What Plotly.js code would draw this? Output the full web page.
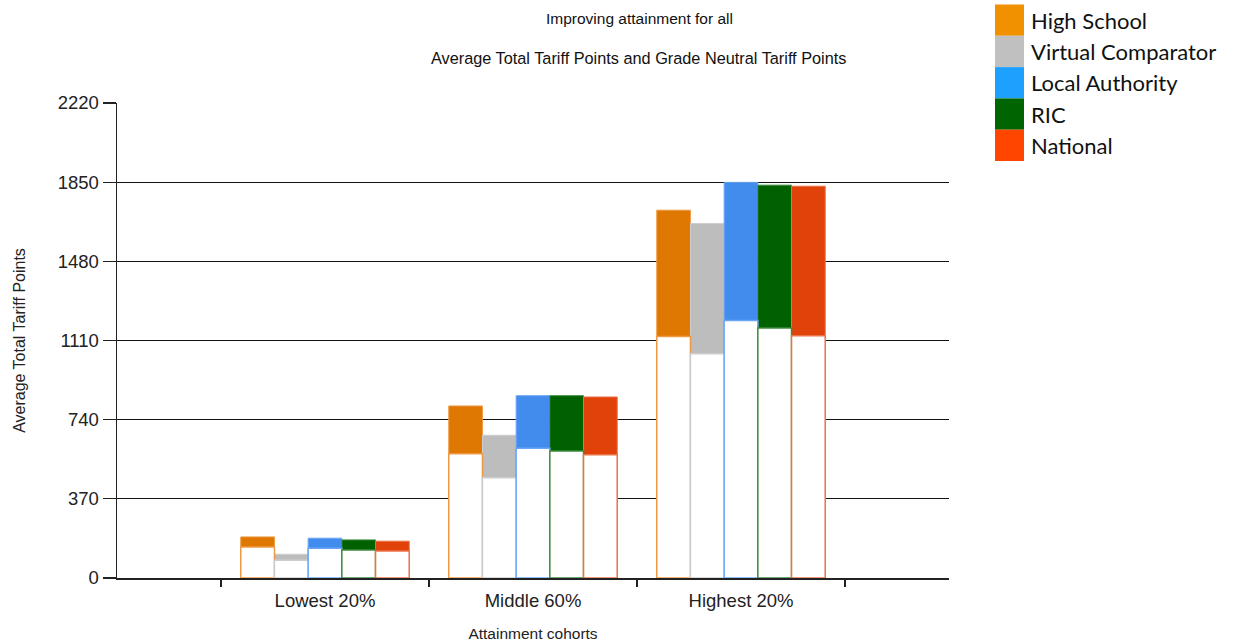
<!DOCTYPE html>
<html>
<head>
<meta charset="utf-8">
<script src="https://cdn.plot.ly/plotly-3.0.1.min.js"></script>
<style>
  html, body { margin: 0; padding: 0; background: #fff; }
  #chart { width: 1236px; height: 642px; }
</style>
</head>
<body>
<div id="chart"></div>
<script>
// Attainment cohorts on the x axis
const cohorts = ['Lowest 20%', 'Middle 60%', 'Highest 20%'];

// Comparison groups
const groups = ['High School', 'Virtual Comparator', 'Local Authority', 'RIC', 'National'];

// Average Total Tariff Points per cohort (coloured bars)
const totalHighSchool = [192, 804, 1719];
const totalVirtualComparator = [111, 667, 1657];
const totalLocalAuthority = [186, 852, 1849];
const totalRIC = [178, 852, 1836];
const totalNational = [172, 846, 1831];

// Grade Neutral Tariff Points per cohort (white bars in front)
const neutralHighSchool = [145, 581, 1129];
const neutralVirtualComparator = [83, 468, 1048];
const neutralLocalAuthority = [139, 606, 1204];
const neutralRIC = [131, 593, 1169];
const neutralNational = [126, 576, 1132];

// Y axis ticks
const yTicks = [0, 370, 740, 1110, 1480, 1850, 2220];

const totals = [totalHighSchool, totalVirtualComparator, totalLocalAuthority, totalRIC, totalNational];
const neutrals = [neutralHighSchool, neutralVirtualComparator, neutralLocalAuthority, neutralRIC, neutralNational];

// Bar fills, bar outlines and legend swatch colours
const barColors = ['#DE7800', '#BDBDBD', '#428CEE', '#006100', '#E0420A'];
const edgeColors = ['#EE9A45', '#CDCDCD', '#6AA6F5', '#3E8A3E', '#EC7248'];
const swatchColors = ['#F29100', '#C0C0C0', '#1EA0FF', '#006400', '#FF4500'];

const W = 1236, H = 642;
const M = { l: 117, r: 287, t: 103, b: 64 };
const plotW = W - M.l - M.r, plotH = H - M.t - M.b;
const px2x = px => (px - M.l) / plotW;
const px2y = py => (H - M.b - py) / plotH;

const traces = [];
groups.forEach((name, i) => {
  traces.push({
    type: 'bar', name: name, x: cohorts, y: totals[i],
    offsetgroup: String(i), showlegend: false,
    marker: { color: barColors[i], line: { color: edgeColors[i], width: 1 } },
    hovertemplate: name + ' total: %{y}<extra></extra>'
  });
});
groups.forEach((name, i) => {
  traces.push({
    type: 'bar', name: name + ' (grade neutral)', x: cohorts, y: neutrals[i],
    offsetgroup: String(i), showlegend: false,
    marker: { color: '#FFFFFF', line: { color: edgeColors[i], width: 1.5 } },
    hovertemplate: name + ' grade neutral: %{y}<extra></extra>'
  });
});

// Legend drawn as large swatches with labels
const shapes = [];
const annotations = [];
const itemH = 31.3, legTop = 4.5;
groups.forEach((name, i) => {
  const y0 = legTop + i * itemH, y1 = y0 + itemH;
  shapes.push({
    type: 'rect', xref: 'paper', yref: 'paper',
    x0: px2x(995), x1: px2x(1024), y0: px2y(y1), y1: px2y(y0),
    fillcolor: swatchColors[i], line: { width: 0 }
  });
  annotations.push({
    xref: 'paper', yref: 'paper', x: px2x(1029), y: px2y((y0 + y1) / 2),
    xanchor: 'left', yanchor: 'middle', showarrow: false, text: name,
    font: { family: 'Lato, "Liberation Sans", sans-serif', size: 22, color: '#111' }
  });
});

// Two-line heading
annotations.push({
  xref: 'paper', yref: 'paper', x: px2x(639), y: px2y(18),
  xanchor: 'center', yanchor: 'middle', showarrow: false,
  text: 'Improving attainment for all',
  font: { family: '"Liberation Sans", Arial, sans-serif', size: 15.5, color: '#111' }
});
annotations.push({
  xref: 'paper', yref: 'paper', x: px2x(638), y: px2y(58),
  xanchor: 'center', yanchor: 'middle', showarrow: false,
  text: 'Average Total Tariff Points and Grade Neutral Tariff Points',
  font: { family: '"Liberation Sans", Arial, sans-serif', size: 16.3, color: '#111' }
});

const layout = {
  width: W, height: H,
  margin: M,
  paper_bgcolor: '#FFFFFF', plot_bgcolor: '#FFFFFF',
  barmode: 'group', bargap: 0.19, bargroupgap: 0,
  showlegend: false,
  font: { family: '"Liberation Sans", Arial, sans-serif', color: '#222' },
  xaxis: {
    type: 'category', range: [-1, 3],
    tickson: 'boundaries', ticks: 'outside', ticklen: 7, tickwidth: 1.5, tickcolor: '#222',
    ticklabelstandoff: 5,
    showgrid: false, showline: true, linecolor: '#222', linewidth: 1.5,
    tickfont: { size: 18.5, color: '#222' },
    title: { text: 'Attainment cohorts', font: { size: 15.5, color: '#222' }, standoff: 18 },
    zeroline: false
  },
  yaxis: {
    range: [0, 2220], tickvals: yTicks, ticktext: yTicks.map(String),
    ticks: 'outside', ticklen: 13, tickwidth: 1.2, tickcolor: '#222',
    showgrid: true, gridcolor: '#111', gridwidth: 1.3,
    showline: true, linecolor: '#222', linewidth: 1.5,
    zeroline: false,
    tickfont: { size: 18.5, color: '#222' },
    title: { text: 'Average Total Tariff Points', font: { size: 16, color: '#222' }, standoff: 28 }
  },
  shapes: shapes,
  annotations: annotations
};

Plotly.newPlot('chart', traces, layout, { displayModeBar: false, staticPlot: true });
</script>
</body>
</html>
